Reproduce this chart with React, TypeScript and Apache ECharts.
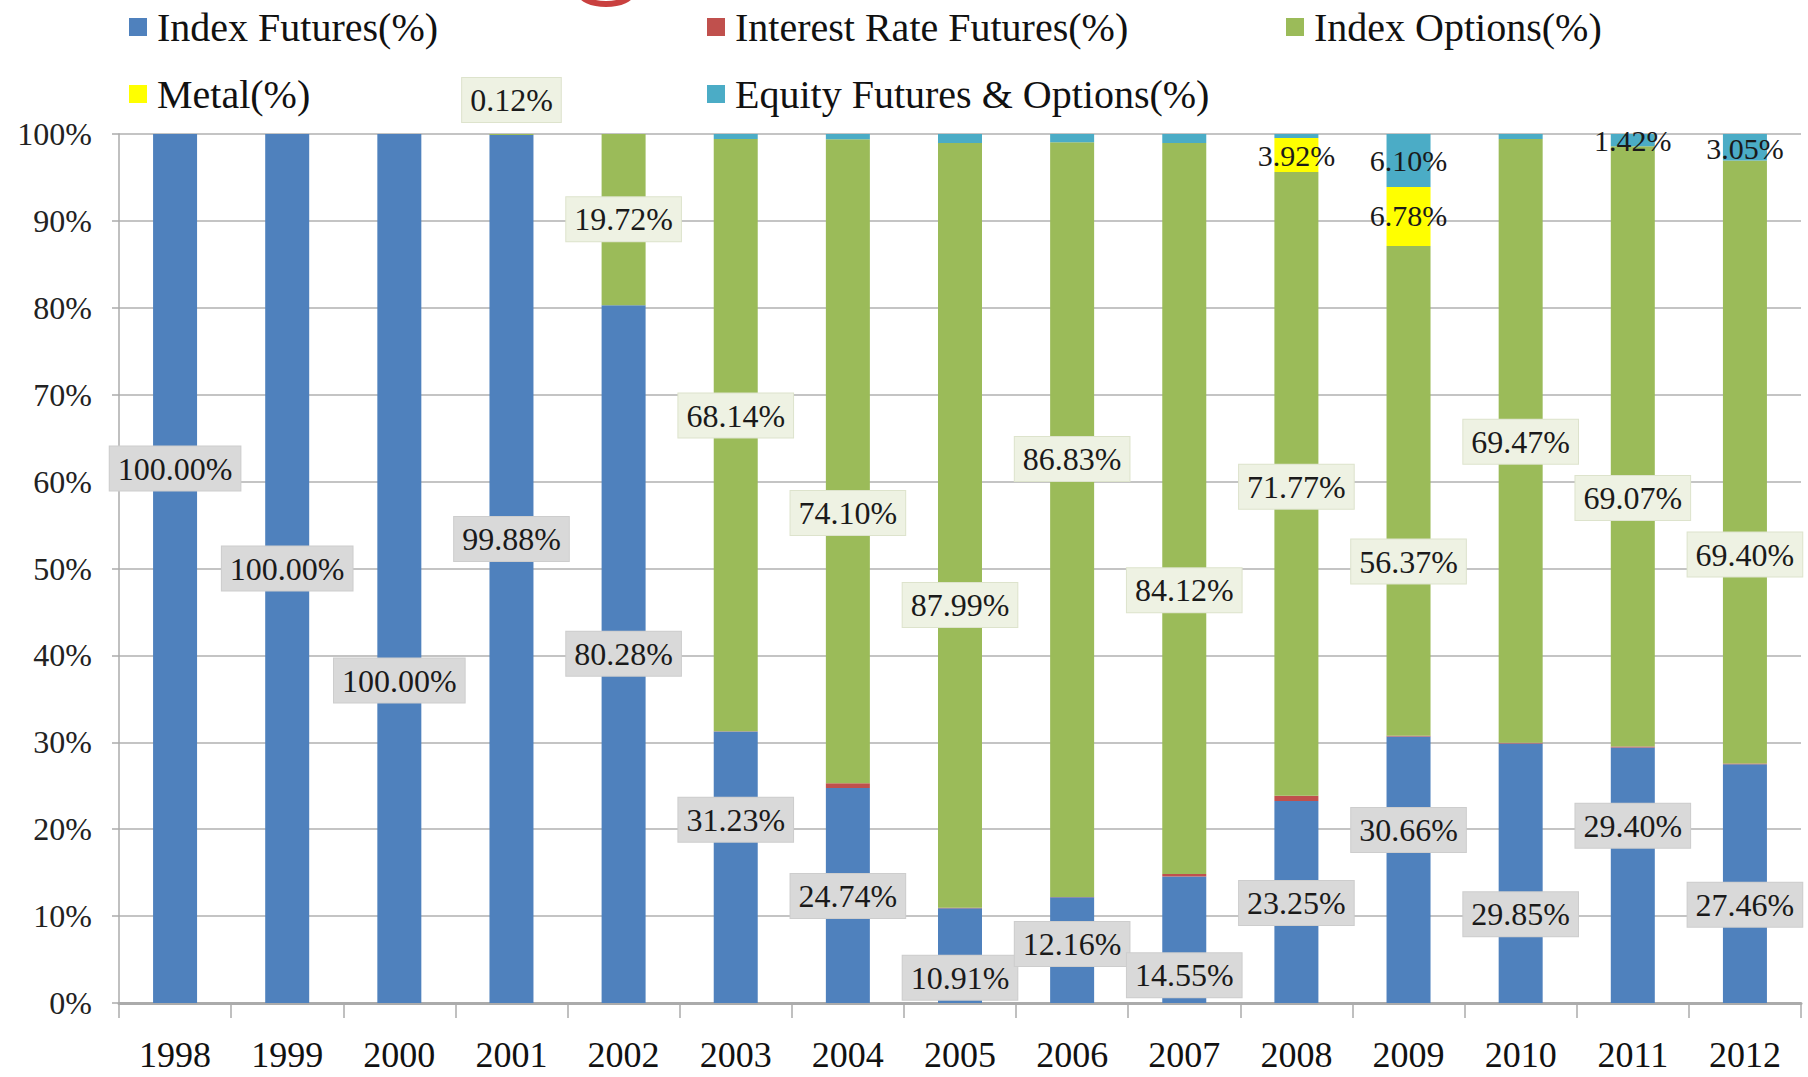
import React, { useEffect, useRef } from "react";
import * as echarts from "echarts";

const years = ["1998", "1999", "2000", "2001", "2002", "2003", "2004", "2005", "2006", "2007", "2008", "2009", "2010", "2011", "2012"];
const seriesNames = ["Index Futures(%)", "Interest Rate Futures(%)", "Index Options(%)", "Metal(%)", "Equity Futures & Options(%)"];
const indexFutures = [100, 100, 100, 99.88, 80.28, 31.23, 24.74, 10.91, 12.16, 14.55, 23.25, 30.66, 29.85, 29.4, 27.46];
const interestRateFutures = [0, 0, 0, 0, 0, 0.05, 0.55, 0.05, 0.05, 0.3, 0.6, 0.09, 0.1, 0.11, 0.09];
const indexOptions = [0, 0, 0, 0.12, 19.72, 68.14, 74.1, 87.99, 86.83, 84.12, 71.77, 56.37, 69.47, 69.07, 69.4];
const metal = [0, 0, 0, 0, 0, 0, 0, 0, 0, 0, 3.92, 6.78, 0, 0, 0];
const equity = [0, 0, 0, 0, 0, 0.58, 0.61, 1.05, 0.96, 1.03, 0.46, 6.1, 0.58, 1.42, 3.05];
const yTicks = [0, 10, 20, 30, 40, 50, 60, 70, 80, 90, 100];

// Layout: level (in % of the axis) at which each data label sits; null = no label
const ifLabelLevel = [61.5, 50.0, 37.1, 53.4, 40.2, 21.1, 12.3, 2.9, 6.8, 3.2, 11.5, 19.9, 10.2, 20.4, 11.3];
const irLabelLevel = [null, null, null, null, null, null, null, null, null, null, null, null, null, null, null];
const ioLabelLevel = [null, null, null, 103.9, 90.2, 67.6, 56.4, 45.8, 62.6, 47.5, 59.4, 50.8, 64.6, 58.1, 51.6];
const metalLabelLevel = [null, null, null, null, null, null, null, null, null, null, 97.5, 90.6, null, null, null];
const equityLabelLevel = [null, null, null, null, null, null, null, null, null, null, null, 96.9, null, 99.3, 98.3];

const W = 1808;
const H = 1077;
const GRID = { left: 119, right: 7, top: 134, bottom: 74 };
const FONT = "'Liberation Serif', 'Times New Roman', serif";
const COLORS = ["#4F81BD", "#C0504D", "#9BBB59", "#FFFF00", "#4BACC6"];

export default function App() {
  const ref = useRef<HTMLDivElement>(null);

  useEffect(() => {
    document.body.style.margin = "0";
    if (!ref.current) return;
    const chart = echarts.init(ref.current, null, { renderer: "svg" });

    const all = [indexFutures, interestRateFutures, indexOptions, metal, equity];
    const levels = [ifLabelLevel, irLabelLevel, ioLabelLevel, metalLabelLevel, equityLabelLevel];
    const plotH = H - GRID.top - GRID.bottom;
    const pxPerUnit = plotH / 100;

    const boxStyles: any[] = [
      { backgroundColor: "#D9D9D9", borderColor: "#CDCDCD", borderWidth: 1, padding: [5, 8] },
      {},
      { backgroundColor: "#EEF2E3", borderColor: "#DDE3CC", borderWidth: 1, padding: [5, 8] },
      { padding: [0, 0] },
      { padding: [0, 0] },
    ];

    const series = all.map((vals, k) => ({
      name: seriesNames[k],
      type: "bar",
      stack: "total",
      barWidth: 44,
      itemStyle: { color: COLORS[k] },
      data: vals.map((v, i) => {
        let base = 0;
        for (let j = 0; j < k; j++) base += all[j][i];
        const center = base + v / 2;
        const lvl = levels[k][i];
        if (lvl === null || lvl === undefined) {
          return { value: v, label: { show: false } };
        }
        return {
          value: v,
          label: {
            show: true,
            position: "inside",
            offset: [0, -(lvl - center) * pxPerUnit],
            formatter: () => v.toFixed(2) + "%",
            fontFamily: FONT,
            fontSize: k >= 3 ? 30 : 32,
            lineHeight: 34,
            color: "#1a1a1a",
            ...boxStyles[k],
          },
        };
      }),
    }));

    const legendCommon = {
      orient: "vertical",
      top: 2,
      itemGap: 27,
      itemWidth: 18,
      itemHeight: 18,
      icon: "rect",
      textStyle: { fontFamily: FONT, fontSize: 40, lineHeight: 40, color: "#111", padding: [0, 0, 0, 5] },
    };

    chart.setOption({
      animation: false,
      backgroundColor: "#ffffff",
      legend: [
        { ...legendCommon, left: 124, data: [seriesNames[0], seriesNames[3]] },
        { ...legendCommon, left: 702, data: [seriesNames[1], seriesNames[4]] },
        { ...legendCommon, left: 1281, data: [seriesNames[2]] },
      ],
      grid: { ...GRID, containLabel: false },
      xAxis: {
        type: "category",
        data: years,
        axisLine: { lineStyle: { color: "#ABABAB", width: 3 } },
        axisTick: { show: true, length: 15, lineStyle: { color: "#ABABAB", width: 1.5 } },
        axisLabel: { fontFamily: FONT, fontSize: 36, lineHeight: 36, color: "#111", margin: 34 },
      },
      yAxis: {
        type: "value",
        min: 0,
        max: 100,
        interval: 10,
        axisLine: { show: true, lineStyle: { color: "#ABABAB", width: 1.5 } },
        axisTick: { show: true, length: 7, lineStyle: { color: "#ABABAB", width: 1.5 } },
        axisLabel: {
          fontFamily: FONT,
          fontSize: 32,
          color: "#222",
          margin: 27,
          formatter: (v: number) => (yTicks.includes(v) ? v + "%" : ""),
        },
        splitLine: { lineStyle: { color: "#C4C4C4", width: 2 } },
      },
      graphic: [
        {
          type: "ellipse",
          shape: { cx: 606, cy: -8, rx: 26, ry: 12 },
          style: { stroke: "#C9403F", lineWidth: 6, fill: "transparent" },
        },
      ],
      series,
    });

    return () => chart.dispose();
  }, []);

  return <div ref={ref} style={{ width: W, height: H }} />;
}
